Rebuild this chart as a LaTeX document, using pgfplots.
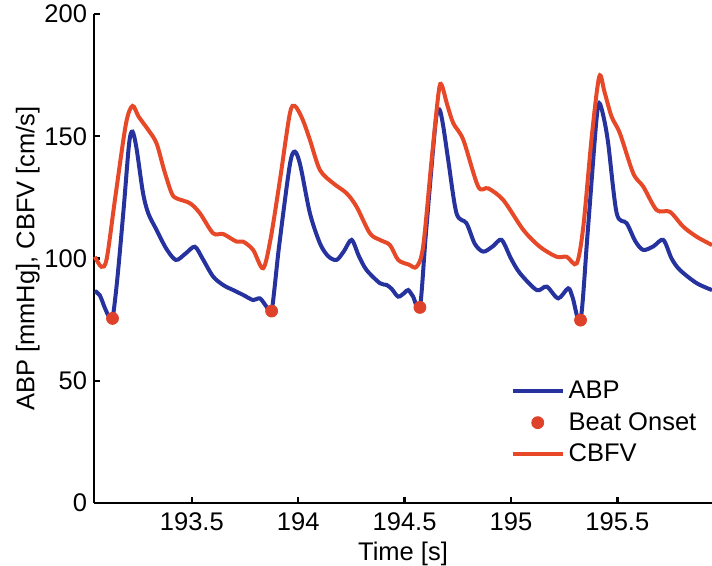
\documentclass[border=0pt]{standalone}
\usepackage{fontspec}
\setmainfont{Liberation Sans}
\usepackage{pgfplots}
\pgfplotsset{compat=1.18}
\definecolor{abpblue}{RGB}{38,50,158}
\definecolor{cbfvred}{RGB}{230,72,40}
\definecolor{dotred}{RGB}{222,66,42}
\begin{document}
\begin{tikzpicture}
\begin{axis}[
  scale only axis,
  width=309bp, height=244.5bp,
  xmin=193.04, xmax=195.945,
  ymin=0, ymax=200,
  axis lines=left,
  axis line style={-, line width=1.4bp, black},
  tick align=inside,
  major tick length=3bp,
  every tick/.style={black, line width=1.2bp},
  xtick={193.5,194,194.5,195,195.5},
  ytick={0,50,100,150,200},
  /pgf/number format/assume math mode=true,
  /pgf/number format/1000 sep={},
  tick label style={font=\fontsize{12.8}{15}\selectfont},
  label style={font=\fontsize{12.8}{15}\selectfont},
  xticklabel style={yshift=-1.5bp},
  xlabel={Time [s]},
  ylabel={ABP [mmHg], CBFV [cm/s]},
  xlabel style={yshift=1.5bp},
  ylabel style={yshift=-4.5bp},
  clip=false,
  legend cell align=left,
  legend style={draw=none, fill=none, at={(rel axis cs:0.664,0.164)}, anchor=west,
    font=\fontsize{12.8}{15}\selectfont, row sep=1.5bp},
  legend image code/.code={\draw[#1] (0bp,0bp) -- (25bp,0bp);},
]
\addplot[abpblue, line width=2bp, smooth, tension=0.5] coordinates {
(193.044,86.7) (193.067,85) (193.090,80) (193.110,76.3) (193.127,75.5)
(193.150,92) (193.180,121) (193.205,147) (193.221,151.9) (193.240,145)
(193.270,127) (193.295,118.5) (193.334,111.7) (193.380,104) (193.425,99.4)
(193.470,102) (193.514,104.8) (193.550,100) (193.600,92.6) (193.650,89)
(193.694,87.1) (193.741,85.1) (193.788,83.0) (193.820,83.7) (193.851,80.3)
(193.875,78.5) (193.910,105) (193.960,138) (193.984,143.7) (194.010,138)
(194.055,118.5) (194.102,106.2) (194.140,101) (194.180,99.4) (194.215,103)
(194.251,107.6) (194.285,101) (194.321,95.3) (194.384,89.9) (194.415,89.2)
(194.440,87.5) (194.470,84.4) (194.500,86) (194.517,87.1) (194.540,84.4)
(194.572,80.0) (194.600,110) (194.645,155) (194.663,161.0) (194.680,155)
(194.705,140.3) (194.744,118.5) (194.791,114.4) (194.830,106) (194.870,102.8)
(194.915,105) (194.956,107.6) (195.000,100) (195.042,94.0) (195.121,87.1)
(195.168,88.5) (195.222,83.7) (195.269,87.8) (195.290,84) (195.327,74.8)
(195.360,110) (195.400,155) (195.415,163.5) (195.435,158) (195.457,147.1)
(195.497,118.5) (195.544,114.4) (195.585,107) (195.622,103.5) (195.670,105)
(195.716,107.6) (195.755,100) (195.794,95.3) (195.873,89.9) (195.945,87.1)
};
\addlegendentry{ABP}
\addplot[only marks, mark=*, mark size=3bp, dotred, mark options={fill=dotred, draw=dotred},
  legend image code/.code={\fill[dotred] (12.5bp,0bp) circle (3bp);}] coordinates {
(193.127,75.5) (193.875,78.5) (194.572,80.0) (195.327,74.8)
};
\addlegendentry{Beat Onset}
\addplot[cbfvred, line width=2bp, smooth, tension=0.5] coordinates {
(193.044,100.7) (193.075,96.6) (193.100,100) (193.140,125) (193.190,155)
(193.221,162.4) (193.250,158) (193.295,152.6) (193.334,147.1) (193.370,136)
(193.405,126.7) (193.428,124.6) (193.491,122.6) (193.538,118.5) (193.600,110.3)
(193.647,110.0) (193.710,106.9) (193.741,106.9) (193.788,103.5) (193.835,96.0)
(193.870,108) (193.914,132.1) (193.960,159) (193.984,162.4) (194.020,157)
(194.055,148.5) (194.102,136.2) (194.164,130.8) (194.227,126.7) (194.274,121.2)
(194.337,110.3) (194.384,107.6) (194.431,105.5) (194.470,99.4) (194.520,97.5)
(194.556,96.6) (194.587,104.8) (194.627,140.3) (194.660,168) (194.674,171.0)
(194.700,163) (194.729,155.3) (194.776,148.5) (194.846,129.4) (194.893,128.7)
(194.964,123.9) (195.058,111.7) (195.136,104.8) (195.215,100.7) (195.262,100.7)
(195.309,98.0) (195.340,113.0) (195.380,150) (195.415,174.4) (195.440,168)
(195.473,158.0) (195.512,151.2) (195.575,134.8) (195.622,129.4) (195.685,119.8)
(195.747,119.1) (195.810,113.0) (195.873,108.9) (195.945,105.5)
};
\addlegendentry{CBFV}
\coordinate (sw) at (rel axis cs:0,0);
\coordinate (ne) at (rel axis cs:1,1);
\end{axis}
\pgfresetboundingbox
\path ([shift={(-47bp,-31.5bp)}]sw) rectangle ([shift={(0bp,7bp)}]ne);
\end{tikzpicture}
\end{document}
